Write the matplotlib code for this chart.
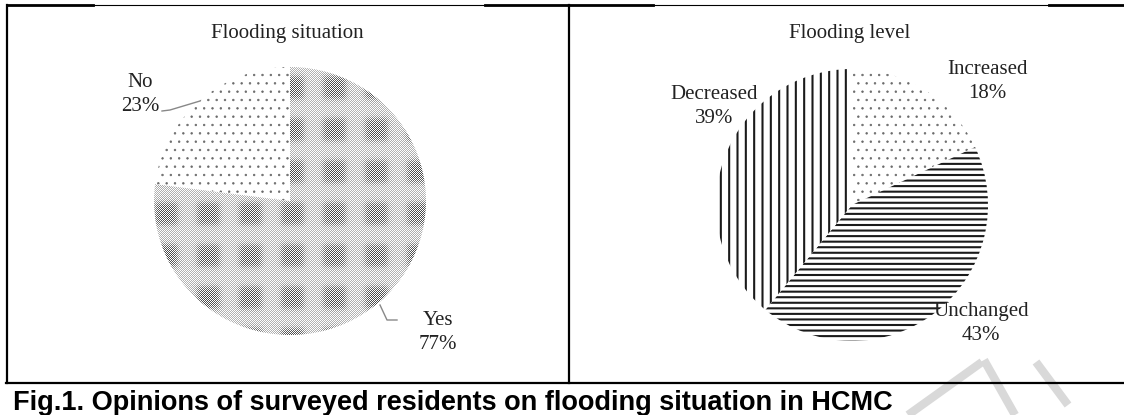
import numpy as np
import matplotlib
matplotlib.use("Agg")
import matplotlib.pyplot as plt
from matplotlib.lines import Line2D

# Survey answers (percent of respondents)
situation_labels = ["Yes", "No"]
situation_values = [77, 23]

level_labels = ["Increased", "Unchanged", "Decreased"]
level_values = [18, 43, 39]

caption = "Fig.1. Opinions of surveyed residents on flooding situation in HCMC"

W, H = 1124, 415
SERIF = "Liberation Serif"
SANS = "Liberation Sans"
TEXT = "#222222"


def px(x, y):
    """Pixel position (from top-left) to figure fraction."""
    return x / W, 1 - y / H


def pie_axes(fig, cx, cy, rx, ry):
    x0, y0 = px(cx - rx, cy + ry)
    ax = fig.add_axes([x0, y0, 2 * rx / W, 2 * ry / H])
    ax.axis("off")
    return ax


def hatch_lw(wedge, lw):
    if hasattr(wedge, "set_hatch_linewidth"):
        wedge.set_hatch_linewidth(lw)


def dotted_texture(nr, nc):
    """Fine dither with a grid of darker square blocks."""
    i, j = np.mgrid[0:nr, 0:nc]
    checker = ((i + j) % 2 == 0).astype(float)
    period = 42.0

    def block(t):
        c = np.cos(2 * np.pi * t / period)
        return 1 / (1 + np.exp(-4 * (c + 0.1)))

    blob = block(j - 12) * block(i - 20)
    dark = 0.3 + 0.42 * blob
    return 1 - checker * dark


def label(x, y, name, value):
    fig.text(*px(x, y), name, ha="center", va="baseline", family=SERIF,
             fontsize=15, color=TEXT)
    fig.text(*px(x, y + 24), f"{value}%", ha="center", va="baseline",
             family=SERIF, fontsize=15, color=TEXT)


def line(xs, ys, **kw):
    pts = [px(x, y) for x, y in zip(xs, ys)]
    fig.add_artist(Line2D([p[0] for p in pts], [p[1] for p in pts],
                          transform=fig.transFigure, **kw))


plt.rcParams["hatch.linewidth"] = 1.5
fig = plt.figure(figsize=(W / 100, H / 100), dpi=100)

# --- Flooding situation ---
rx1, ry1 = 136, 134
ax1 = pie_axes(fig, 290, 201, rx1, ry1)
w1, _ = ax1.pie(situation_values, startangle=90, counterclock=False,
                radius=1, center=(0, 0), frame=False,
                wedgeprops=dict(linewidth=0))
ax1.set_xlim(-1, 1)
ax1.set_ylim(-1, 1)
ax1.set_aspect("auto")
w1[0].set_facecolor("white")
w1[0].set_edgecolor("none")
tex = dotted_texture(2 * ry1, 2 * rx1)
img = ax1.imshow(tex, cmap="gray", vmin=0, vmax=1, extent=[-1, 1, -1, 1],
                 interpolation="nearest", zorder=2, aspect="auto")
img.set_clip_path(w1[0])
w1[1].set_facecolor("white")
w1[1].set_edgecolor("#6a6a6a")
w1[1].set_hatch("..")
hatch_lw(w1[1], 0.5)

fig.text(*px(287, 38), "Flooding situation", ha="center", va="baseline",
         family=SERIF, fontsize=15, color=TEXT)
label(140, 87, situation_labels[1], situation_values[1])
label(438, 325, situation_labels[0], situation_values[0])
line([162, 170, 200], [111, 110, 101], color="#888888", lw=1.0)
line([380, 387, 397], [305, 320, 320], color="#888888", lw=1.0)

# --- Flooding level ---
rx2, ry2 = 136, 136
ax2 = pie_axes(fig, 852, 205, rx2, ry2)
w2, _ = ax2.pie(level_values, startangle=90, counterclock=False,
                radius=1, center=(0, 0), frame=False,
                wedgeprops=dict(linewidth=0))
ax2.set_xlim(-1, 1)
ax2.set_ylim(-1, 1)
ax2.set_aspect("auto")
for w, hatch, col, lw in zip(w2, ["..", "---", "||"],
                             ["#6a6a6a", "#1a1a1a", "#1a1a1a"], [0.5, 1.5, 1.5]):
    w.set_facecolor("white")
    w.set_edgecolor(col)
    w.set_hatch(hatch)
    hatch_lw(w, lw)

fig.text(*px(850, 38), "Flooding level", ha="center", va="baseline",
         family=SERIF, fontsize=15, color=TEXT)
label(987, 74, level_labels[0], level_values[0])
label(981, 316, level_labels[1], level_values[1])
label(714, 99, level_labels[2], level_values[2])

# --- watermark strokes ---
wm = dict(color="#d9d9d9", lw=6, solid_capstyle="butt", zorder=0)
line([908, 982], [415, 362], **wm)
line([984, 1015], [360, 415], **wm)
line([1036, 1068], [362, 405], **wm)

# --- frame ---
line([7, 1124], [5.5, 5.5], color="black", lw=0.8)
for x0, x1 in [(7, 93), (485, 653), (1049, 1124)]:
    line([x0, x1], [5.5, 5.5], color="black", lw=2.0)
line([6.7, 6.7], [5, 383], color="black", lw=1.6)
line([569, 569], [5, 383], color="black", lw=1.6)
line([6, 1124], [383, 383], color="black", lw=1.6)

fig.text(*px(13, 410), caption, ha="left", va="baseline", family=SANS,
         fontweight="bold", fontsize=19.5, color="black")

fig.savefig("out.png", dpi=100, facecolor="white")
